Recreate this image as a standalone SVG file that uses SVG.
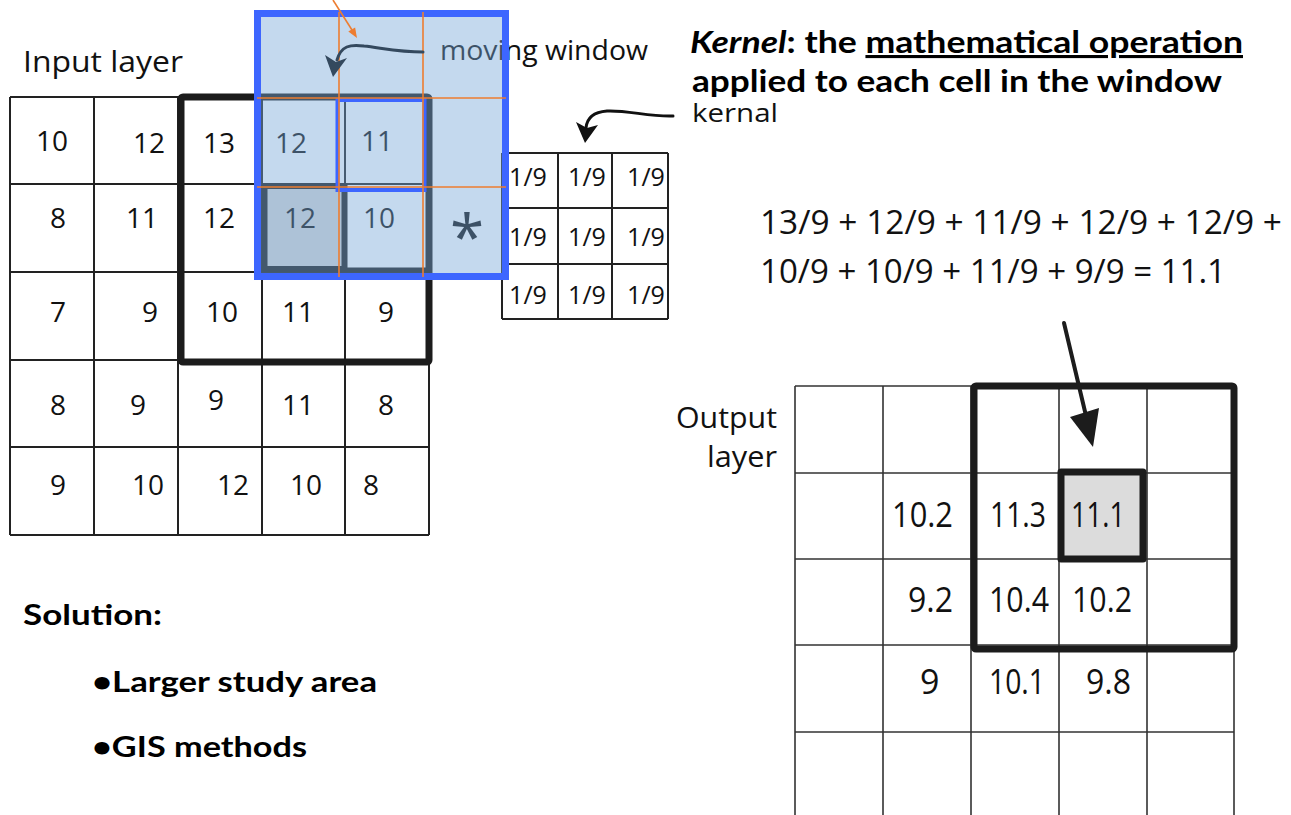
<svg xmlns="http://www.w3.org/2000/svg" width="1291" height="815" viewBox="0 0 1291 815">
<style>
.hand{font-family:"Open Sans","DejaVu Sans",sans-serif;fill:#111}
.num{font-family:"Open Sans","DejaVu Sans",sans-serif;font-size:28px;fill:#111;text-anchor:middle}
.knum{font-family:"Open Sans","DejaVu Sans",sans-serif;font-size:25px;fill:#111;text-anchor:middle}
.onum{font-family:"Open Sans","DejaVu Sans",sans-serif;font-size:34px;fill:#111}
.bold{font-family:Lato,"Liberation Sans",sans-serif;font-weight:700;fill:#000}
.grid{stroke:#222;stroke-width:2;fill:none}
.ogrid{stroke:#333;stroke-width:1.6;fill:none}
.thick{stroke:#1c1c1c;stroke-width:7;fill:none;stroke-linejoin:round}
.orange{stroke:#ed7d31;stroke-width:1.6;fill:none}
</style>
<rect width="1291" height="815" fill="#fff"/>

<g id="input-layer">
<text class="hand" x="23" y="72" font-size="29" textLength="160" lengthAdjust="spacingAndGlyphs">Input layer</text>
<path class="grid" d="M10,97V535M94,97V535M178,97V535M262,97V535M345,97V535M429,97V535M10,97H429M10,184H429M10,272H429M10,360H429M10,447H429M10,535H429"/>
<rect x="264.5" y="186" width="80" height="83" fill="#d6d6d6" stroke="#1c1c1c" stroke-width="6"/>
<path d="M262,270H431" stroke="#1c1c1c" stroke-width="5"/>
<rect class="thick" x="181" y="97" width="248" height="265" rx="2"/>
<text class="num" x="52" y="151">10</text>
<text class="num" x="149" y="153">12</text>
<text class="num" x="219" y="153">13</text>
<text class="num" x="291" y="153">12</text>
<text class="num" x="377" y="151">11</text>
<text class="num" x="58" y="228">8</text>
<text class="num" x="142" y="228">11</text>
<text class="num" x="219" y="228">12</text>
<text class="num" x="300" y="228">12</text>
<text class="num" x="379" y="228">10</text>
<text class="num" x="58" y="322">7</text>
<text class="num" x="150" y="322">9</text>
<text class="num" x="222" y="322">10</text>
<text class="num" x="298" y="322">11</text>
<text class="num" x="386" y="322">9</text>
<text class="num" x="58" y="415">8</text>
<text class="num" x="138" y="415">9</text>
<text class="num" x="216" y="410">9</text>
<text class="num" x="298" y="415">11</text>
<text class="num" x="386" y="415">8</text>
<text class="num" x="58" y="495">9</text>
<text class="num" x="148" y="495">10</text>
<text class="num" x="233" y="495">12</text>
<text class="num" x="306" y="495">10</text>
<text class="num" x="371" y="495">8</text>
</g>

<g id="kernel-grid">
<path class="grid" d="M502,153V319M558,153V319M612,153V319M668,153V319M502,153H668M502,208H668M502,264H668M502,319H668"/>
<text class="knum" x="528" y="186">1/9</text>
<text class="knum" x="587" y="186">1/9</text>
<text class="knum" x="646" y="186">1/9</text>
<text class="knum" x="528" y="246">1/9</text>
<text class="knum" x="587" y="246">1/9</text>
<text class="knum" x="646" y="246">1/9</text>
<text class="knum" x="528" y="304">1/9</text>
<text class="knum" x="587" y="304">1/9</text>
<text class="knum" x="646" y="304">1/9</text>
<text class="hand" x="692" y="122" font-size="25" textLength="86" lengthAdjust="spacingAndGlyphs">kernal</text>
</g>

<g id="moving-window">
<text class="hand" x="467" y="259" font-size="62" text-anchor="middle">*</text>
<text class="hand" x="440" y="60" font-size="28" textLength="208" lengthAdjust="spacingAndGlyphs">moving window</text>
<rect x="257.5" y="13.5" width="248" height="263" fill="rgb(120,168,216)" fill-opacity="0.435" stroke="#3d66ff" stroke-width="7"/>
<rect x="337.5" y="100" width="87" height="90" fill="none" stroke="#3d66ff" stroke-width="4"/>
<path class="orange" d="M339,12V277M423,12V277M257,98H506M257,187H506"/>
</g>

<g id="kernel-definition">
<text class="bold" x="690" y="53" font-size="31" textLength="553" lengthAdjust="spacingAndGlyphs"><tspan font-style="italic">Kernel</tspan>: the <tspan text-decoration="underline">mathematical operation</tspan></text>
<text class="bold" x="692" y="92" font-size="31" textLength="530" lengthAdjust="spacingAndGlyphs">applied to each cell in the window</text>
</g>

<g id="equation">
<text class="hand" x="760" y="234" font-size="33" textLength="522" lengthAdjust="spacingAndGlyphs">13/9 + 12/9 + 11/9 + 12/9 + 12/9 +</text>
<text class="hand" x="760" y="283" font-size="33" textLength="466" lengthAdjust="spacingAndGlyphs">10/9 + 10/9 + 11/9 + 9/9 = 11.1</text>
</g>

<g id="output-layer">
<text class="hand" x="676" y="428" font-size="29" textLength="101" lengthAdjust="spacingAndGlyphs">Output</text>
<text class="hand" x="707" y="467" font-size="29" textLength="70" lengthAdjust="spacingAndGlyphs">layer</text>
<path class="ogrid" d="M795,386V815M883,386V815M971,386V815M1059,386V815M1147,386V815M1234,386V815M795,386H1234M795,473H1234M795,559H1234M795,645H1234M795,732H1234"/>
<rect x="1061" y="472" width="82" height="87" fill="#dcdcdc" stroke="#1c1c1c" stroke-width="7" stroke-linejoin="round"/>
<rect class="thick" x="974" y="386" width="260" height="263" rx="2"/>
<text class="onum" x="892" y="527" textLength="61" lengthAdjust="spacingAndGlyphs">10.2</text>
<text class="onum" x="990" y="527" textLength="56" lengthAdjust="spacingAndGlyphs">11.3</text>
<text class="onum" x="1071" y="527" textLength="54" lengthAdjust="spacingAndGlyphs">11.1</text>
<text class="onum" x="908" y="612" textLength="45" lengthAdjust="spacingAndGlyphs">9.2</text>
<text class="onum" x="989" y="612" textLength="60" lengthAdjust="spacingAndGlyphs">10.4</text>
<text class="onum" x="1072" y="612" textLength="60" lengthAdjust="spacingAndGlyphs">10.2</text>
<text class="onum" x="920" y="694">9</text>
<text class="onum" x="989" y="694" textLength="56" lengthAdjust="spacingAndGlyphs">10.1</text>
<text class="onum" x="1086" y="694" textLength="45" lengthAdjust="spacingAndGlyphs">9.8</text>
</g>

<g id="solution">
<text class="bold" x="23" y="625" font-size="28" textLength="139" lengthAdjust="spacingAndGlyphs">Solution:</text>
<text class="bold" x="92" y="692" font-size="28" textLength="285" lengthAdjust="spacingAndGlyphs">•Larger study area</text>
<text class="bold" x="92" y="757" font-size="28" textLength="215" lengthAdjust="spacingAndGlyphs">•GIS methods</text>
</g>

<g id="connectors">
<path d="M423,52C400,52 382,48 364,46C350,44 341,46 337,60" fill="none" stroke="#34495e" stroke-width="3" stroke-linecap="round"/>
<path d="M325,55L336,62L347,58L333,77Z" fill="#34495e"/>
<path d="M333,0L352,30" class="orange" stroke-width="2"/>
<path d="M357,38L348.3,31.6L355.1,27.4Z" fill="#ed7d31"/>
<path d="M673,116C650,117 627,110 607,111C594,112 587,117 586,128" fill="none" stroke="#111" stroke-width="3" stroke-linecap="round"/>
<path d="M576,122L587,128L598,125L585,143Z" fill="#111"/>
<path d="M1064,323L1087,420" stroke="#1c1c1c" stroke-width="4" stroke-linecap="round"/>
<path d="M1070,417L1099,408L1093,447Z" fill="#1c1c1c"/>
</g>
</svg>
